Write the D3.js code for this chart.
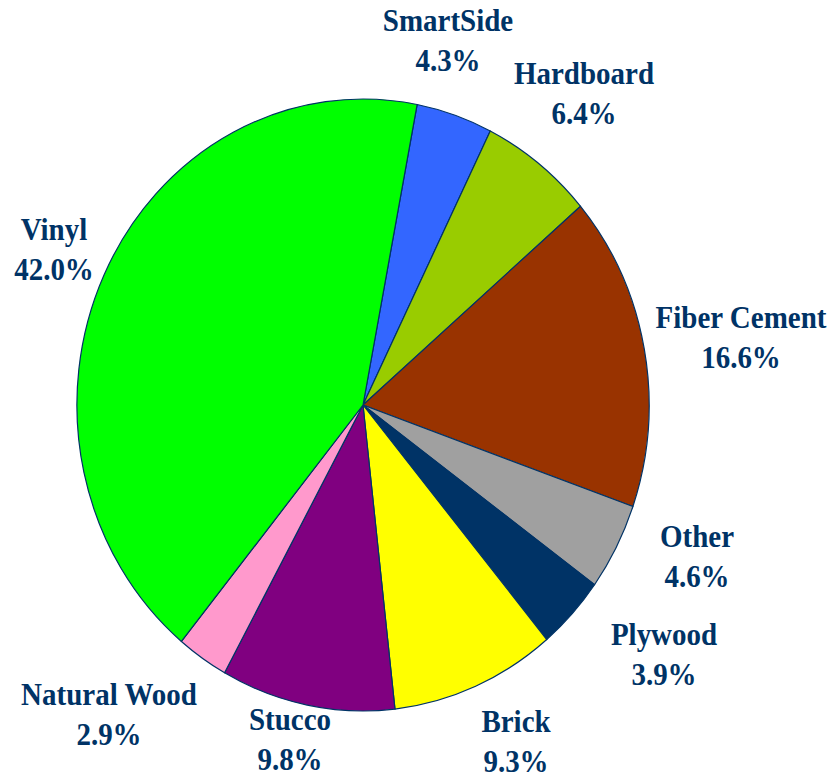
<!DOCTYPE html>
<html>
<head>
<meta charset="utf-8">
<script src="https://cdn.jsdelivr.net/npm/d3@7"></script>
<style>
  html, body { margin: 0; padding: 0; background: #fff; }
  svg { display: block; }
  .lbl text { font-family: "Liberation Serif", "Times New Roman", Times, serif; font-weight: bold; font-size: 31px; fill: #003366; }
</style>
</head>
<body>
<svg id="chart" width="830" height="777"></svg>
<script>
// ---- data ----
const categories = ["SmartSide", "Hardboard", "Fiber Cement", "Other", "Plywood", "Brick", "Stucco", "Natural Wood", "Vinyl"];
const values = [4.3, 6.4, 16.6, 4.6, 3.9, 9.3, 9.8, 2.9, 42.0];
const colors = ["#3366FF", "#99CC00", "#993300", "#A0A0A0", "#003366", "#FFFF00", "#800080", "#FF99CC", "#00FF00"];

// ---- layout (label anchor: centre x, first baseline y) ----
const labelAnchors = [
  [448, 31], [584, 84], [741, 328], [697, 547], [664, 645],
  [516, 732], [290, 730], [109, 705], [54, 240]
];

const svg = d3.select("#chart");
const cx = 363, cy = 405, R = 306, sx = 0.935;
const startDeg = 10.9;

const pie = d3.pie().sort(null).value(d => d.value)
  .startAngle(startDeg * Math.PI / 180)
  .endAngle((startDeg + 360) * Math.PI / 180);
const data = categories.map((c, i) => ({ name: c, value: values[i], color: colors[i] }));
const arcs = pie(data);
const arc = d3.arc().innerRadius(0).outerRadius(R);

const g = svg.append("g").attr("transform", `translate(${cx},${cy}) scale(${sx},1)`);
g.selectAll("path").data(arcs).enter().append("path")
  .attr("d", arc)
  .attr("fill", d => d.data.color)
  .attr("stroke", "#003366")
  .attr("stroke-width", 1.2)
  .attr("stroke-linejoin", "round")
  .attr("vector-effect", "non-scaling-stroke");

const fmt = d3.format(".1f");
const lg = svg.append("g");
const labels = lg.selectAll("g.lbl").data(arcs).enter().append("g")
  .attr("class", "lbl")
  .attr("transform", (d, i) => `translate(${labelAnchors[i][0]},${labelAnchors[i][1]}) scale(${sx},1)`);
labels.append("text")
  .attr("text-anchor", "middle")
  .text(d => d.data.name);
labels.append("text")
  .attr("text-anchor", "middle")
  .attr("y", 40)
  .text(d => fmt(d.data.value) + "%");
</script>
</body>
</html>
